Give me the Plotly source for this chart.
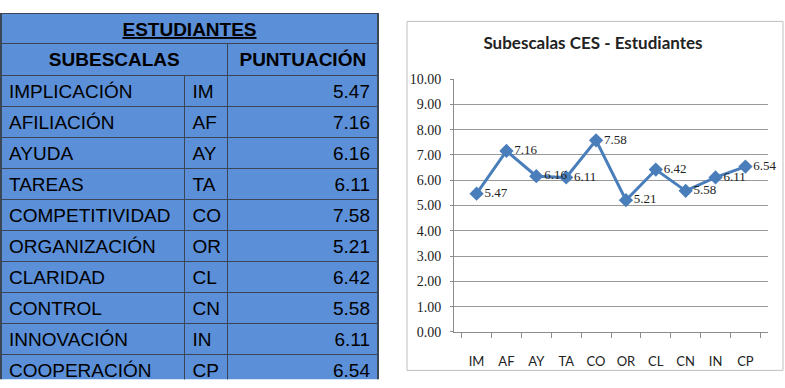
import plotly.graph_objects as go

# ---- data ----
table_title = "ESTUDIANTES"
header_labels = ["SUBESCALAS", "PUNTUACIÓN"]
subscale_names = ["IMPLICACIÓN", "AFILIACIÓN", "AYUDA", "TAREAS", "COMPETITIVIDAD",
                  "ORGANIZACIÓN", "CLARIDAD", "CONTROL", "INNOVACIÓN", "COOPERACIÓN"]
codes = ["IM", "AF", "AY", "TA", "CO", "OR", "CL", "CN", "IN", "CP"]
scores = [5.47, 7.16, 6.16, 6.11, 7.58, 5.21, 6.42, 5.58, 6.11, 6.54]
chart_title = "Subescalas CES - Estudiantes"

W, H = 785, 388
FILL = "#5B8FD8"
DARK = "#3B4757"
TFONT = dict(family="Liberation Sans, Arial", size=19, color="#000000")
TFONT_B = dict(TFONT, weight="bold")
TFONT_BU = dict(TFONT, weight="bold", lineposition="under")
SHIFT = 4  # plotly tables sit a few px below their domain top

def px_x(v):
    return v / W

def px_y(v):
    return 1 - v / H

fig = go.Figure()

# table block 1: title row
fig.add_trace(go.Table(
    domain=dict(x=[px_x(1), px_x(378)], y=[px_y(60), px_y(11 - SHIFT)]),
    columnwidth=[376],
    header=dict(values=[table_title], height=31,
                fill_color=FILL, line=dict(color=DARK, width=1.5),
                align="center", font=TFONT_BU),
))
# table block 2: column headings
fig.add_trace(go.Table(
    domain=dict(x=[px_x(1), px_x(378)], y=[px_y(100), px_y(42 - SHIFT)]),
    columnwidth=[226, 150],
    header=dict(values=header_labels, height=33,
                fill_color=FILL, line=dict(color=DARK, width=1.5),
                align="center", font=TFONT_B),
))
# table block 3: data rows (rendered as multi-row header block)
score_txt = [f"{s:.2f}" for s in scores]
cols = [subscale_names, codes, score_txt]
fig.add_trace(go.Table(
    domain=dict(x=[px_x(1), px_x(378)], y=[0, px_y(75 - SHIFT)]),
    columnwidth=[183, 43, 150],
    header=dict(values=cols, height=31, fill_color=FILL,
                line=dict(color=DARK, width=1.5),
                align=["left", "left", "right"], font=TFONT),
))

# line chart
fig.add_trace(go.Scatter(
    x=codes, y=scores, mode="lines+markers+text",
    text=score_txt, textposition="middle right",
    textfont=dict(family="Liberation Serif, Times New Roman", size=13, color="#222222"),
    line=dict(color="#4A7EBB", width=3),
    marker=dict(symbol="diamond", size=11, color="#4A7EBB"),
    cliponaxis=False, showlegend=False,
))

fig.update_layout(
    width=W, height=H, margin=dict(l=0, r=0, t=0, b=0),
    paper_bgcolor="white", plot_bgcolor="white",
    title=dict(text="<b>" + chart_title + "</b>", x=593 / W, xanchor="center", y=px_y(43),
               yanchor="middle",
               font=dict(family="Lato", size=17, color="#222222")),
    xaxis=dict(domain=[px_x(454), px_x(768)], type="category", tickson="boundaries",
               ticks="outside", ticklen=5, tickcolor="#8C8C8C", showline=True,
               linecolor="#8C8C8C", showgrid=False, ticklabelstandoff=17,
               tickfont=dict(family="Lato", size=13, color="#222222")),
    yaxis=dict(domain=[px_y(338), px_y(75)], range=[0, 10], dtick=1, tickformat=".2f",
               showline=True, linecolor="#8C8C8C", gridcolor="#999999", gridwidth=1,
               ticks="outside", ticklen=3, tickcolor="#8C8C8C", zeroline=False,
               ticklabelstandoff=6,
               tickfont=dict(family="Liberation Serif, Times New Roman", size=14, color="#222222")),
    shapes=[dict(type="rect", xref="paper", yref="paper",
                 x0=px_x(407), x1=px_x(783), y0=px_y(378), y1=px_y(15),
                 line=dict(color="#BFBFBF", width=1))],
)

fig.write_html("out.html")
